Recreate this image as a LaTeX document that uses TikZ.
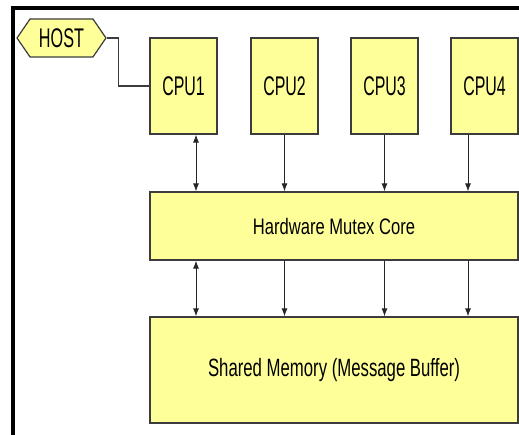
\documentclass[tikz,border=0pt]{standalone}
\usepackage{fontspec}
\setmainfont{Liberation Sans}
\usetikzlibrary{shapes.symbols,arrows.meta}
\definecolor{boxfill}{HTML}{FFFF99}
\definecolor{boxline}{HTML}{3C3C3C}
\newcommand{\squeeze}[2]{\scalebox{#1}[1]{#2}}

\begin{document}
\begin{tikzpicture}[x=1pt, y=-1pt, block/.style={draw=boxline, line width=1.2pt, fill=boxfill, inner sep=0pt}, cpu/.style={block, minimum width=67pt, minimum height=96pt, font=\fontsize{27}{30}\selectfont}, link/.style={draw=black!85, line width=0.9pt, -{Latex[length=8pt,width=6pt]}}, twoway/.style={link, {Latex[length=8pt,width=6pt]}-{Latex[length=8pt,width=6pt]}}]
		\useasboundingbox (0,0) rectangle (519,435);
		\draw[line width=4pt] (12.5,435) -- (12.5,8.5) -- (519,8.5);

		\node[block, signal, signal to=west and east, signal pointer angle=111, minimum width=89pt, minimum height=38pt, font=\fontsize{27}{30}\selectfont](host) at (61.5,38) {\squeeze{0.6}{HOST}};
		\node[cpu](cpu1) at (183.5,86) {\squeeze{0.59}{CPU1}};
		\node[cpu](cpu2) at (284.5,86) {\squeeze{0.59}{CPU2}};
		\node[cpu](cpu3) at (384.5,86) {\squeeze{0.59}{CPU3}};
		\node[cpu](cpu4) at (484.5,86) {\squeeze{0.59}{CPU4}};
		\node[block, minimum width=368pt, minimum height=68pt, font=\fontsize{22.4}{26}\selectfont](mutex) at (334,226) {\squeeze{0.74}{Hardware Mutex Core}};
		\node[block, minimum width=368pt, minimum height=106pt, font=\fontsize{25}{29}\selectfont](shared) at (334,370) {\raisebox{-3pt}{\squeeze{0.67}{Shared Memory (Message Buffer)}}};

		\draw[boxline, line width=1.1pt] (host.east) -- ++(12,0) |- (cpu1.west);
		\draw[twoway] ([xshift=12.5pt]cpu1.south) -- ([xshift=12.5pt]cpu1.south |- mutex.north);
		\draw[twoway] ([xshift=12.5pt]cpu1.south |- mutex.south) -- ([xshift=12.5pt]cpu1.south |- shared.north);
		\foreach \n/\dx in {2/0, 3/0, 4/-16.5} {
			\draw[link] ([xshift=\dx pt]cpu\n.south) -- ([xshift=\dx pt]cpu\n.south |- mutex.north);
			\draw[link] ([xshift=\dx pt]cpu\n.south |- mutex.south) -- ([xshift=\dx pt]cpu\n.south |- shared.north);
		}
	\end{tikzpicture}
\end{document}
